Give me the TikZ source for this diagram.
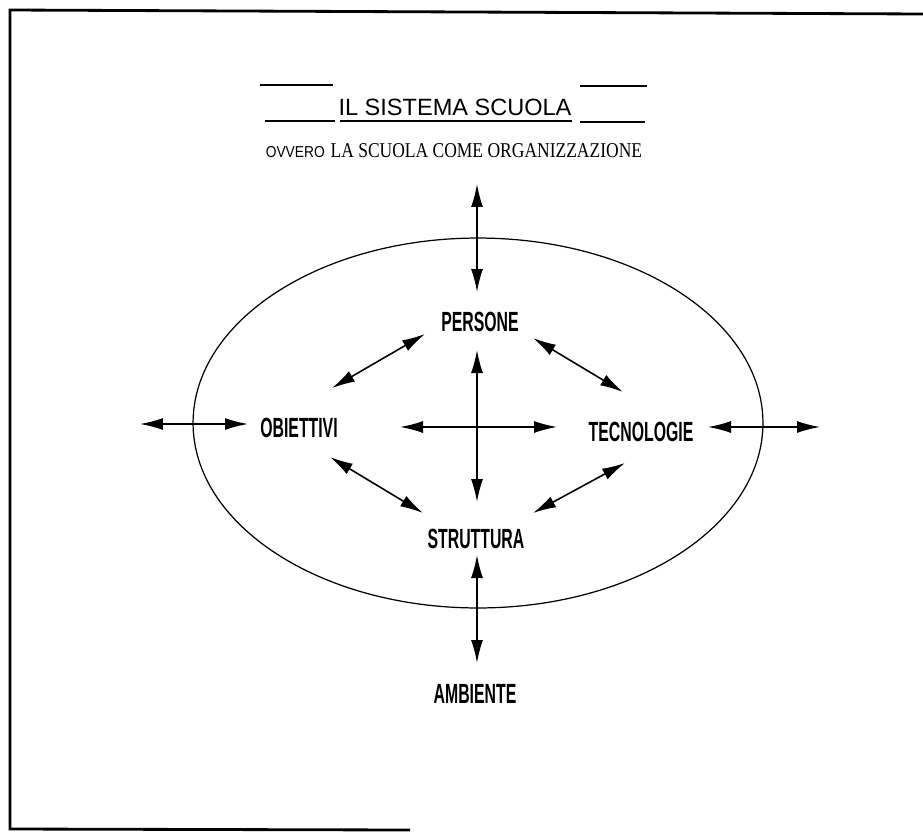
\documentclass[tikz,border=0pt]{standalone}
\usepackage{fontspec}
\usetikzlibrary{arrows.meta}
\newfontfamily\titolofont{Liberation Sans}
\newfontfamily\ovverofont[FakeStretch=0.87]{Liberation Sans}
\newfontfamily\sottofont[FakeStretch=0.83]{Liberation Serif}
\newfontfamily\vocefont[FakeStretch=0.57]{Liberation Sans}
\tikzset{
  voce/.style={font=\vocefont\bfseries\fontsize{15.8}{16}\selectfont, inner sep=0pt},
  freccia/.style={{Latex[length=0.46cm,width=0.24cm]}-{Latex[length=0.46cm,width=0.24cm]}, line width=0.9pt},
  riga/.style={line width=1.3pt},
}
\begin{document}
\begin{tikzpicture}[x=0.02cm,y=-0.02cm]
    \useasboundingbox (0,0) rectangle (923,832);
    % cornice
    \draw[line width=1.6pt] (410,830) -- (10,829) -- (10,10) -- (923,14);

    % titolo
    \node[anchor=base, inner sep=0pt, font=\titolofont\fontsize{13.4}{14}\selectfont] (titolo) at (455,115) {IL SISTEMA SCUOLA};
    \draw[riga] (340,121) -- (572,121);
    \draw[riga] (260,85) -- (333,85);
    \draw[riga] (265,121) -- (335,121);
    \draw[riga] (580,86) -- (647,86);
    \draw[riga] (580,122) -- (645,122);
    \node[anchor=base, inner sep=0pt] (sottotitolo) at (454,157)
        {{\ovverofont\fontsize{9}{9}\selectfont OVVERO} {\sottofont\fontsize{12}{12}\selectfont LA SCUOLA COME ORGANIZZAZIONE}};

    \draw[line width=0.7pt] (478,423) ellipse [x radius=5.7cm, y radius=3.7cm];

    \node[voce] (persone) at (480,322) {PERSONE};
    \node[voce] (obiettivi) at (299,428) {OBIETTIVI};
    \node[voce] (tecnologie) at (641,432) {TECNOLOGIE};
    \node[voce] (struttura) at (476,539) {STRUTTURA};
    \node[voce] (ambiente) at (475,694) {AMBIENTE};

    % estremi delle frecce
    \coordinate (su-a) at (477,184);   \coordinate (su-b) at (477,292);
    \coordinate (ver-a) at (477,350);  \coordinate (ver-b) at (477,502);
    \coordinate (oriz-a) at (400,427); \coordinate (oriz-b) at (557,427);
    \coordinate (po-a) at (425,334);   \coordinate (po-b) at (332,388);
    \coordinate (pt-a) at (533,338);   \coordinate (pt-b) at (623,392);
    \coordinate (os-a) at (330,457);   \coordinate (os-b) at (423,513);
    \coordinate (ts-a) at (625,463);   \coordinate (ts-b) at (533,513);
    \coordinate (giu-a) at (477,555);  \coordinate (giu-b) at (477,663);
    \coordinate (sx-a) at (140,424);   \coordinate (sx-b) at (248,424);
    \coordinate (dx-a) at (708,427);   \coordinate (dx-b) at (820,427);

    \foreach \f in {su,ver,oriz,po,pt,os,ts,giu,sx,dx}
        \draw[freccia] (\f-a) -- (\f-b);
\end{tikzpicture}
\end{document}
